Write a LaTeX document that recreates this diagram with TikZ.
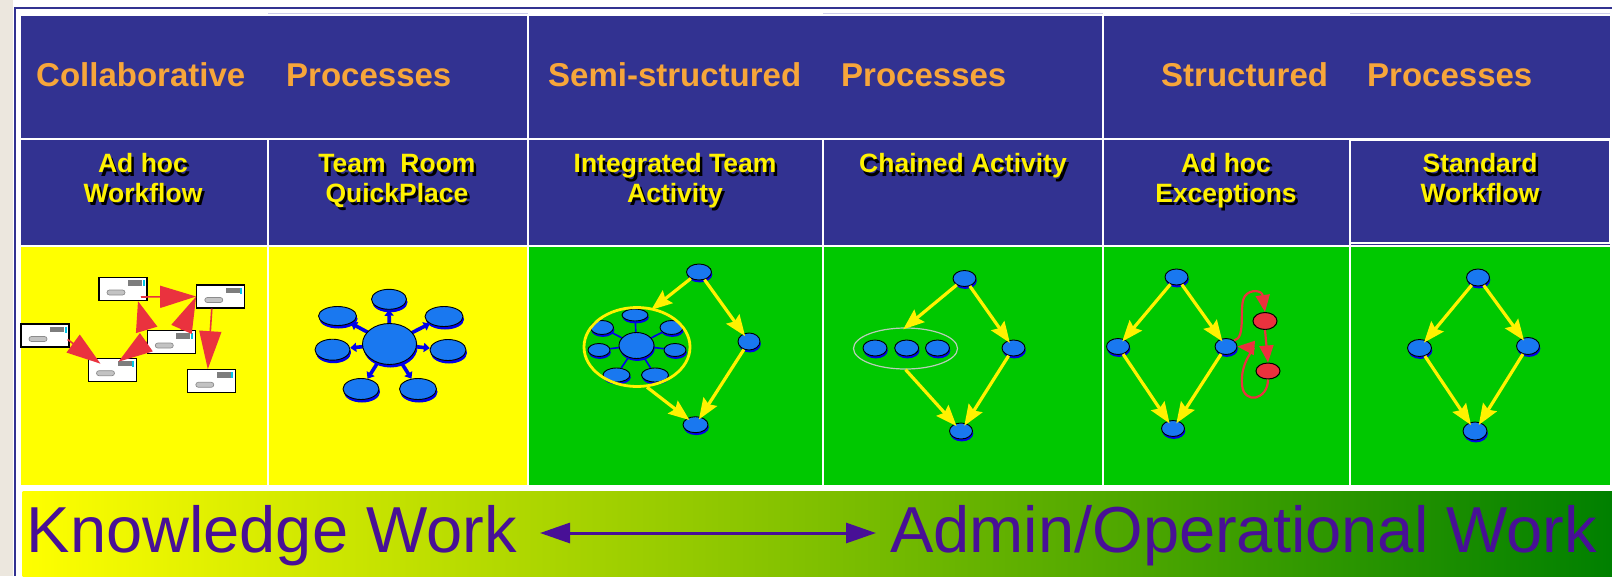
\documentclass[tikz,border=0pt]{standalone}
\usepackage{fontspec}
\setmainfont{Liberation Sans}
\usetikzlibrary{shapes.geometric,arrows.meta,shadows}

\definecolor{hdblue}{RGB}{50,50,145}
\definecolor{hdorange}{RGB}{247,166,58}
\definecolor{cellyellow}{RGB}{255,255,0}
\definecolor{cellgreen}{RGB}{0,200,0}
\definecolor{nodeblue}{RGB}{25,120,240}
\definecolor{rimblue}{RGB}{0,0,235}
\definecolor{linkred}{RGB}{234,50,62}
\definecolor{bandpurple}{RGB}{72,16,150}
\definecolor{framebeige}{RGB}{236,231,222}
\definecolor{bandmid}{RGB}{140,205,0}
\definecolor{banddark}{RGB}{0,128,0}
\definecolor{ringgrey}{RGB}{185,205,185}
\definecolor{barlight}{RGB}{195,195,195}
\definecolor{bargrey}{RGB}{140,140,140}
\definecolor{stampgrey}{RGB}{125,125,125}
\definecolor{stamptick}{RGB}{0,200,230}
\definecolor{toplilac}{RGB}{205,205,235}

% envelope-like work item with a grey address bar and a stamp
\newcommand\mailcard[3]{%
  \node[card] (#1) at (#2,#3) {};
  \filldraw[fill=barlight, draw=bargrey, line width=0.7pt, rounded corners=2.5pt]
    ([shift={(-16,1)}]#1.center) rectangle ([shift={(2,6)}]#1.center);
  \fill[stampgrey] ([shift={(5,-9)}]#1.center) rectangle ([shift={(19,-3.5)}]#1.center);
  \fill[stamptick] ([shift={(19.5,-9)}]#1.center) rectangle ([shift={(21.5,-3)}]#1.center);
}
% text with a black drop shadow behind it
\newcommand\shadowed[1]{%
  \makebox[0pt][l]{\hspace{2.5pt}\raisebox{-3.5pt}{\textcolor{black}{#1}}}#1}
% yellow sub-heading line
\newcommand\cellhead[4]{%
  \node[rowtwo] (#1) at (#2,#3) {\shadowed{#4}};
}

\begin{document}
\begin{tikzpicture}[x=1pt,y=-1pt,
  cellline/.style={draw=white, line width=1.3pt},
  toptext/.style={text=hdorange, font=\fontsize{33}{36}\selectfont\bfseries,
    anchor=base west, inner sep=0pt},
  rowtwo/.style={text=yellow, font=\fontsize{26.5}{30}\selectfont\bfseries,
    anchor=base, inner sep=0pt},
  bnode/.style={ellipse, draw=black, line width=0.9pt, fill=nodeblue, inner sep=0pt,
    drop shadow={shadow xshift=0.8pt, shadow yshift=-2.4pt, fill=rimblue, opacity=1}},
  bigsat/.style={bnode, drop shadow={shadow xshift=1pt, shadow yshift=-3pt, fill=rimblue, opacity=1}},
  rnode/.style={ellipse, draw=black, line width=1pt, fill=linkred, inner sep=0pt,
    minimum width=24pt, minimum height=17pt},
  card/.style={rectangle, draw=black, line width=1.3pt, fill=white, inner sep=0pt,
    minimum width=48pt, minimum height=23pt},
  yflow/.style={draw=yellow, line width=3.2pt, shorten >=-3pt,
    -{Stealth[length=21pt,width=16pt,inset=3pt]}},
  redhead/.style={draw=linkred, fill=linkred, line width=1.6pt,
    -{Triangle[length=#1,width=22pt]}},
  redlink/.style={draw=linkred, line width=2.2pt, -{Triangle[length=17pt,width=14pt]}},
  spoke/.style={draw=rimblue, line width=3.6pt, -{Triangle[length=6pt,width=9pt]}},
  minispoke/.style={draw=rimblue, line width=1.6pt},
  bandtext/.style={text=bandpurple, font=\fontsize{65}{70}\selectfont,
    anchor=base west, inner sep=0pt},
  bandarrow/.style={draw=bandpurple, line width=3pt,
    {Triangle[length=30pt,width=20pt]}-{Triangle[length=30pt,width=20pt]}}
]
\useasboundingbox (0,0) rectangle (1612,576);

% page, frame and cell fills
\fill[white] (0,0) rectangle (1612,576);
\fill[framebeige] (0,0) rectangle (13.3,576);
\draw[hdblue, line width=2pt] (14.5,576) -- (14.5,8.3) -- (1612,8.3);
\fill[hdblue] (20.7,15.7) rectangle (1610,246);
\fill[cellyellow] (20.7,246) rectangle (528,485);
\fill[cellgreen] (528,246) rectangle (1610,485);
\draw[toplilac, line width=1pt] (20.7,13.5) -- (1610,13.5);
\draw[white, line width=2.5pt] (20.7,13.5) -- (268,13.5);
\draw[white, line width=2.5pt] (528,13.5) -- (823,13.5);
\draw[white, line width=2.5pt] (1103,13.5) -- (1350,13.5);

% table rules
\draw[cellline] (20.7,139) -- (1610,139);
\draw[cellline] (20.7,246) -- (1610,246);
\draw[cellline] (20.7,485.5) -- (1610,485.5);
\draw[cellline] (20.7,15.7) -- (20.7,485.5);
\draw[cellline] (1610.5,15.7) -- (1610.5,485.5);
\draw[cellline] (528,15.7) -- (528,485.5);
\draw[cellline] (1103,15.7) -- (1103,485.5);
\draw[cellline] (268,139) -- (268,485.5);
\draw[cellline] (823,139) -- (823,485.5);
\draw[cellline] (1350,139) -- (1350,485.5);
\draw[white, line width=2pt] (1350,140) rectangle (1610,243);

% process families
\node[toptext] (collab) at (36,86) {Collaborative};
\node[toptext] (collabp) at (286,86) {Processes};
\node[toptext] (semi) at (548,86) {Semi-structured};
\node[toptext] (semip) at (841,86) {Processes};
\node[toptext] (struct) at (1161,86) {Structured};
\node[toptext] (structp) at (1367,86) {Processes};

% process kinds
\cellhead{adA}{143}{172.5}{Ad hoc}
\cellhead{adB}{143}{202}{Workflow}
\cellhead{teamA}{397}{172.5}{Team\ \ Room}
\cellhead{teamB}{397}{202}{QuickPlace}
\cellhead{intA}{675}{172.5}{Integrated Team}
\cellhead{intB}{675}{202}{Activity}
\cellhead{chainA}{963}{172.5}{Chained Activity}
\cellhead{excA}{1226}{172.5}{Ad hoc}
\cellhead{excB}{1226}{202}{Exceptions}
\cellhead{stdA}{1480}{172.5}{Standard}
\cellhead{stdB}{1480}{202}{Workflow}

% ---- ad hoc workflow: routed work items
\mailcard{mA}{123}{289}
\mailcard{mB}{220.8}{296.5}
\mailcard{mC}{45}{335.5}
\mailcard{mD}{112.5}{369.7}
\mailcard{mE}{171.3}{342}
\mailcard{mF}{211.8}{381.3}
\draw[redhead=36pt] ([shift={(18,8)}]mA.center) -- (mB.west);
\draw[redhead=34pt] ([shift={(-2,4)}]mC.east) -- ([shift={(-12,-6)}]mD.center);
\draw[redhead=30pt] (mE.north west) -- ([xshift=15]mA.south);
\draw[redhead=34pt] (mE.west) -- ([shift={(6,-8)}]mD.center);
\draw[redhead=36pt] ([xshift=10]mE.north) -- (mB.west);
\draw[redhead=38pt] ([xshift=-9]mB.south) -- ([xshift=-4]mF.north);

% ---- team room: hub and spokes
\node[bigsat, minimum width=35pt, minimum height=20pt] (s1) at (389,299.3) {};
\node[bigsat, minimum width=38pt, minimum height=19pt] (s2) at (337.5,316) {};
\node[bigsat, minimum width=38pt, minimum height=20pt] (s3) at (444,316.5) {};
\node[bigsat, minimum width=35pt, minimum height=21pt] (s4) at (332.5,349.7) {};
\node[bigsat, minimum width=36pt, minimum height=21pt] (s5) at (448,350) {};
\node[bigsat, minimum width=36pt, minimum height=21pt] (s6) at (361,389) {};
\node[bigsat, minimum width=37pt, minimum height=21pt] (s7) at (418,389) {};
\foreach \s in {s1,s2,s3,s4,s5,s6,s7} \draw[spoke] (389.5,344) -- (\s);
\node[bigsat, minimum width=54pt, minimum height=41pt] (c2) at (389.5,344) {};

% ---- integrated team activity
\node[bnode, minimum width=25pt, minimum height=16pt] (t3) at (699,272) {};
\node[bnode, minimum width=22pt, minimum height=17pt] (r3) at (749,341.5) {};
\node[bnode, minimum width=25pt, minimum height=16pt] (b3) at (695.5,424.7) {};
\node[bnode, minimum width=26pt, minimum height=12pt] (i1) at (635,315) {};
\node[bnode, minimum width=23pt, minimum height=14pt] (i2) at (602,327.5) {};
\node[bnode, minimum width=23pt, minimum height=14pt] (i3) at (671.5,327.5) {};
\node[bnode, minimum width=22pt, minimum height=13pt] (i4) at (599,350) {};
\node[bnode, minimum width=22pt, minimum height=13pt] (i5) at (675,350) {};
\node[bnode, minimum width=27pt, minimum height=14pt] (i6) at (616.5,375) {};
\node[bnode, minimum width=27pt, minimum height=14pt] (i7) at (655,375) {};
\foreach \s in {i1,i2,i3,i4,i5,i6,i7} \draw[minispoke] (636.5,345.5) -- (\s);
\node[bnode, minimum width=35pt, minimum height=26pt] (c3) at (636.5,345.5) {};
\node[ellipse, draw=yellow, line width=2.8pt, inner sep=0pt,
      minimum width=106pt, minimum height=79pt] (e3) at (637,347) {};
\draw[yflow] (t3) -- (e3.67);
\draw[yflow] (t3) -- (r3);
\draw[yflow] (e3.-76) -- (b3);
\draw[yflow] (r3) -- (b3);

% ---- chained activity
\node[bnode, minimum width=23pt, minimum height=16pt] (t4) at (964.5,278.5) {};
\node[bnode, minimum width=23pt, minimum height=16pt] (r4) at (1013.5,348) {};
\node[bnode, minimum width=23pt, minimum height=16pt] (b4) at (961,431) {};
\node[bnode, minimum width=24pt, minimum height=16pt] (k1) at (875,348) {};
\node[bnode, minimum width=24pt, minimum height=16pt] (k2) at (906.7,348) {};
\node[bnode, minimum width=24pt, minimum height=16pt] (k3) at (937.5,348) {};
\node[ellipse, draw=ringgrey, line width=1.2pt, inner sep=0pt,
      minimum width=104pt, minimum height=41pt] (g4) at (905.5,348.5) {};
\draw[yflow] (t4) -- (g4.north);
\draw[yflow] (t4) -- (r4);
\draw[yflow] (g4.south) -- (b4);
\draw[yflow] (r4) -- (b4);

% ---- ad hoc exceptions
\node[bnode, minimum width=23pt, minimum height=16pt] (t5) at (1176.5,277) {};
\node[bnode, minimum width=23pt, minimum height=16pt] (l5) at (1118,346.5) {};
\node[bnode, minimum width=22pt, minimum height=16pt] (r5) at (1226,346.5) {};
\node[bnode, minimum width=23pt, minimum height=16pt] (b5) at (1173,428.5) {};
\node[rnode] (x1) at (1265,321) {};
\node[rnode, minimum height=16pt] (x2) at (1268,371) {};
\draw[yflow] (t5) -- (l5);
\draw[yflow] (t5) -- (r5);
\draw[yflow] (l5) -- (b5);
\draw[yflow] (r5) -- (b5);
\draw[redlink] (r5.north east) .. controls (1247,338) and (1238,305) .. (1245,296)
  .. controls (1250,289) and (1262,290) .. (x1.north);
\draw[redlink] (x1.south) -- (x2.north);
\draw[redlink] (x2.south) .. controls (1268,400) and (1244,405) .. (1242,385)
  .. controls (1240,362) and (1255,348) .. (r5.east);

% ---- standard workflow
\node[bnode, minimum width=23pt, minimum height=17pt] (t6) at (1478,277.5) {};
\node[bnode, minimum width=24pt, minimum height=17pt] (l6) at (1419.5,348) {};
\node[bnode, minimum width=23pt, minimum height=17pt] (r6) at (1528,346) {};
\node[bnode, minimum width=24pt, minimum height=18pt] (b6) at (1475,431) {};
\draw[yflow] (t6) -- (l6);
\draw[yflow] (t6) -- (r6);
\draw[yflow] (l6) -- (b6);
\draw[yflow] (r6) -- (b6);

% ---- spectrum band
\fill[white] (13.3,486.5) rectangle (1612,491.7);
\draw[hdblue, line width=2pt] (14.5,486) -- (14.5,576);
\shade[left color=cellyellow, middle color=bandmid, right color=banddark]
  (22.6,491.7) rectangle (1612,576);
\node[bandtext] (kw) at (26.5,552) {Knowledge Work};
\node[bandtext] (aw) at (890,552) {Admin/Operational Work};
\coordinate (la) at (540,533);
\coordinate (ra) at (876,533);
\draw[bandarrow] (la) -- (ra);
\end{tikzpicture}
\end{document}
